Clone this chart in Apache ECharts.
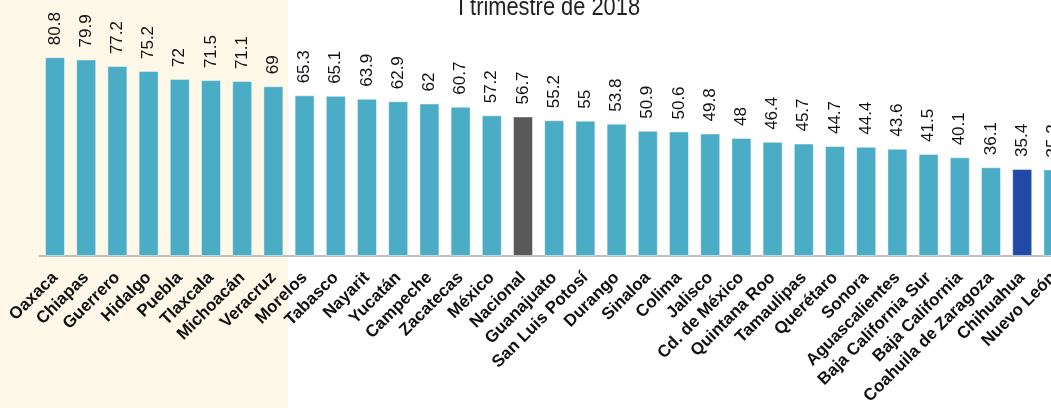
<!DOCTYPE html>
<html>
<head>
<meta charset="utf-8">
<script src="https://cdn.jsdelivr.net/npm/echarts@6/dist/echarts.min.js"></script>
<style>
  html, body { margin: 0; padding: 0; background: #fff; }
  #chart { width: 1051px; height: 408px; }
</style>
</head>
<body>
<div id="chart"></div>
<script>
  // entidades ordenadas de mayor a menor
  const estados = ['Oaxaca', 'Chiapas', 'Guerrero', 'Hidalgo', 'Puebla', 'Tlaxcala', 'Michoacán', 'Veracruz',
    'Morelos', 'Tabasco', 'Nayarit', 'Yucatán', 'Campeche', 'Zacatecas', 'México', 'Nacional',
    'Guanajuato', 'San Luis Potosí', 'Durango', 'Sinaloa', 'Colima', 'Jalisco', 'Cd. de México',
    'Quintana Roo', 'Tamaulipas', 'Querétaro', 'Sonora', 'Aguascalientes', 'Baja California Sur',
    'Baja California', 'Coahuila de Zaragoza', 'Chihuahua', 'Nuevo León']
  const valores = [80.8, 79.9, 77.2, 75.2, 72, 71.5, 71.1, 69,
    65.3, 65.1, 63.9, 62.9, 62, 60.7, 57.2, 56.7,
    55.2, 55, 53.8, 50.9, 50.6, 49.8, 48,
    46.4, 45.7, 44.7, 44.4, 43.6, 41.5,
    40.1, 36.1, 35.4, 35.2]
  const sombreados = ['Oaxaca', 'Chiapas', 'Guerrero', 'Hidalgo', 'Puebla', 'Tlaxcala', 'Michoacán', 'Veracruz']
  const titulo = 'I trimestre de 2018'

  const colorBase = '#4BACC6'
  const colores = { 'Nacional': '#595959', 'Chihuahua': '#2149A6' }

  const chart = echarts.init(document.getElementById('chart'))
  chart.setOption({
    backgroundColor: '#fff',
    animation: false,
    // la gráfica sigue más allá del borde derecho (Nuevo León queda cortado)
    grid: { left: 39.4, width: 1029.6, top: 10, bottom: 152, outerBoundsMode: 'none' },
    xAxis: {
      type: 'category',
      data: estados,
      axisTick: { show: false },
      axisLine: { lineStyle: { color: '#aaa', width: 1.5 } },
      axisLabel: {
        interval: 0,
        rotate: 45,
        margin: 19,
        fontFamily: '"Liberation Sans", Arial, sans-serif',
        fontWeight: 'bold',
        fontSize: 17,
        color: '#111'
      }
    },
    yAxis: {
      type: 'value',
      min: 0,
      max: 100,
      show: false,
      splitLine: { show: false }
    },
    series: [{
      type: 'bar',
      barWidth: 20,
      data: valores.map((v, i) => ({
        value: v,
        itemStyle: { color: colores[estados[i]] || colorBase }
      })),
      itemStyle: { borderColor: 'rgba(255,255,255,0.45)', borderWidth: 1 },
      label: {
        show: true,
        position: 'top',
        rotate: 90,
        align: 'left',
        verticalAlign: 'middle',
        distance: 12,
        fontFamily: '"Liberation Sans", Arial, sans-serif',
        fontSize: 17,
        color: '#111'
      }
    }]
  })

  // banda de fondo para las entidades sombreadas
  const ultimo = sombreados.length - 1
  const xa = chart.convertToPixel({ xAxisIndex: 0 }, sombreados[ultimo])
  const xb = chart.convertToPixel({ xAxisIndex: 0 }, estados[ultimo + 1])
  chart.setOption({
    graphic: [{
      type: 'rect',
      z: -10,
      silent: true,
      shape: { x: 0, y: 0, width: (xa + xb) / 2 - 1, height: 408 },
      style: { fill: '#FDF8E7' }
    }, {
      // título (cortado arriba en el original), letra angosta
      type: 'text',
      x: 549,
      y: 21,
      scaleX: 0.84,
      silent: true,
      style: {
        text: titulo,
        align: 'center',
        verticalAlign: 'bottom',
        fontFamily: '"Liberation Sans", Arial, sans-serif',
        fontSize: 26,
        fill: '#222'
      }
    }]
  })
</script>
</body>
</html>
